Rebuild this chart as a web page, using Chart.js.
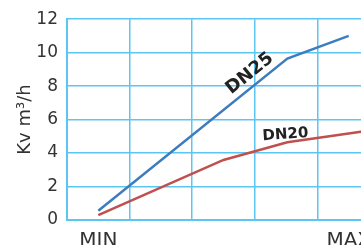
<!DOCTYPE html>
<html>
<head>
<meta charset="utf-8">
<script src="https://cdn.jsdelivr.net/npm/chart.js@4/dist/chart.umd.min.js"></script>
<style>
  html, body { margin: 0; padding: 0; background: #fff; overflow: hidden; }
  #wrap { width: 400px; height: 245px; }
</style>
</head>
<body>
<div id="wrap"><canvas id="myChart" width="400" height="245"></canvas></div>
<script>
// 차트 데이터
const dn25X = [0.5, 3.52, 4.5];
const dn25Y = [0.55, 9.65, 11.0];
const dn20X = [0.5, 2.5, 3.52, 4.75];
const dn20Y = [0.29, 3.59, 4.65, 5.31];
const xLabels = ['MIN', 'MAX'];   // x축 양 끝 라벨
const yTicks = [0, 2, 4, 6, 8, 10, 12];

const gridColor = '#5cc6f2';
const textColor = '#333333';

function toPoints(xs, ys) {
    return xs.map((x, i) => ({ x: x, y: ys[i] }));
}

// 선 옆에 DN25 / DN20 글자 그리기
const lineLabels = {
    id: 'lineLabels',
    afterDatasetsDraw(chart) {
        const ctx = chart.ctx;
        const xs = chart.scales.x, ys = chart.scales.y;
        const items = [
            { text: 'DN25', x: 2.92, y: 8.75, rot: -39, size: 18 },
            { text: 'DN20', x: 3.49, y: 5.1, rot: -4, size: 15 }
        ];
        items.forEach(it => {
            ctx.save();
            ctx.translate(xs.getPixelForValue(it.x), ys.getPixelForValue(it.y));
            ctx.rotate(it.rot * Math.PI / 180);
            ctx.font = 'bold ' + it.size + 'px "DejaVu Sans"';
            ctx.fillStyle = '#222';
            ctx.textAlign = 'center';
            ctx.textBaseline = 'middle';
            ctx.fillText(it.text, 0, 0);
            ctx.restore();
        });
    }
};

let ctx = document.getElementById('myChart');

let config = {
    type: 'line',
    data: {
        datasets: [
            {
                label: 'DN25',
                data: toPoints(dn25X, dn25Y),
                borderColor: '#3e7cc0',
                borderWidth: 2.5,
                pointRadius: 0,
                tension: 0
            },
            {
                label: 'DN20',
                data: toPoints(dn20X, dn20Y),
                borderColor: '#c0504d',
                borderWidth: 2.5,
                pointRadius: 0,
                tension: 0
            }
        ]
    },
    options: {
        responsive: false,
        animation: false,
        layout: { padding: { top: 16, right: 20, left: 0, bottom: 0 } },
        plugins: { legend: { display: false }, tooltip: { enabled: false } },
        scales: {
            x: {
                type: 'linear',
                min: 0,
                max: 5,
                afterBuildTicks: scale => {
                    scale.ticks = [0, 0.5, 1, 2, 3, 4, 4.5, 5].map(v => ({ value: v }));
                },
                afterFit: scale => { scale.height = 25; },
                grid: {
                    color: c => (c.tick && c.tick.value % 1 !== 0) ? 'rgba(0,0,0,0)' : gridColor,
                    lineWidth: 1.5,
                    drawTicks: false
                },
                border: { color: gridColor, width: 2 },
                ticks: {
                    autoSkip: false,
                    maxRotation: 0,
                    padding: 9,
                    color: textColor,
                    font: { family: 'DejaVu Sans', size: 20 },
                    callback: v => v === 0.5 ? xLabels[0] : (v === 4.5 ? xLabels[1] : '')
                }
            },
            y: {
                min: 0,
                max: 12,
                afterBuildTicks: scale => {
                    scale.ticks = yTicks.map(v => ({ value: v }));
                },
                afterFit: scale => { scale.width = 67; },
                grid: { color: gridColor, lineWidth: 1.5, drawTicks: false },
                border: { color: gridColor, width: 2 },
                ticks: {
                    padding: 9,
                    color: textColor,
                    font: { family: 'DejaVu Sans', size: 17 }
                },
                title: {
                    display: true,
                    text: 'Kv m³/h',
                    color: textColor,
                    font: { family: 'DejaVu Sans', size: 18 },
                    padding: { top: 15, bottom: 0 }
                }
            }
        }
    },
    plugins: [lineLabels]
};

let myChart = new Chart(ctx, config);
</script>
</body>
</html>
